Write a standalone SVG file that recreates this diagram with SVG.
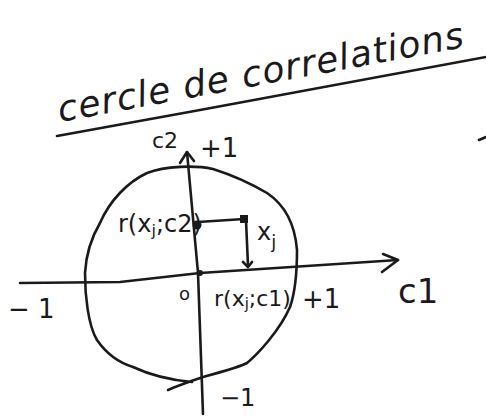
<svg xmlns="http://www.w3.org/2000/svg" width="486" height="416" viewBox="0 0 486 416">
<style>
.s{fill:none;stroke:#1a1a1a;stroke-width:2.6;stroke-linecap:round;stroke-linejoin:round}
.t{font-family:"DejaVu Sans","Liberation Sans",sans-serif;fill:#1a1a1a}
</style>
<rect width="486" height="416" fill="#fff"/>
<!-- title -->
<text class="t" x="60" y="122" font-size="36" font-style="italic" transform="rotate(-10.5 60 122)" textLength="412">cercle de correlations</text>
<path class="s" d="M57 136 L200 110 L486 57"/>
<path class="s" d="M486 137 L479 140"/>
<!-- circle -->
<path class="s" d="M168 390 C182 384 195 380 203 377 C225 371 240 367 247 363 C258 354 280 330 290 307 C296 290 297 265 297 250 C295 225 285 205 267 193 C250 183 232 175 213 169 C195 165 165 166 147 173 C128 182 110 200 100 223 C90 240 86 255 85 273 C85 295 88 325 97 340 C108 356 120 363 133 367 C150 375 170 380 192 382"/>
<!-- axes -->
<path class="s" d="M203 414 L198 273 L187 152"/>
<path class="s" d="M180 163 L187 152 L194 161"/>
<path class="s" d="M20 283 L120 282 L200 273 L398 260"/>
<path class="s" d="M383 254 L398 260 L382 272"/>
<!-- projections -->
<path class="s" d="M198 222 L244 219"/>
<path class="s" d="M246 220 L248 266"/>
<path class="s" d="M243 262 L248 267 L252 262"/>
<rect x="240" y="215" width="8" height="8" fill="#1a1a1a"/>
<circle cx="197" cy="225" r="4.5" fill="#1a1a1a"/>
<circle cx="200" cy="273" r="3" fill="#1a1a1a"/>
<!-- labels -->
<text class="t" x="152" y="148" font-size="22">c2</text>
<text class="t" x="200" y="157" font-size="26">+1</text>
<text class="t" x="118" y="232" font-size="24">r(x<tspan font-size="16" dy="4">j</tspan><tspan dy="-4">;c2)</tspan></text>
<text class="t" x="257" y="240" font-size="24">x<tspan font-size="18" dy="8">j</tspan></text>
<text class="t" x="8" y="318" font-size="26">− 1</text>
<text class="t" x="179" y="300" font-size="18">o</text>
<text class="t" x="214" y="306" font-size="22">r(x<tspan font-size="15" dy="3">j</tspan><tspan dy="-3">;c1)</tspan></text>
<text class="t" x="302" y="308" font-size="26">+1</text>
<text class="t" x="398" y="303" font-size="34">c1</text>
<text class="t" x="220" y="406" font-size="24">−1</text>
</svg>
